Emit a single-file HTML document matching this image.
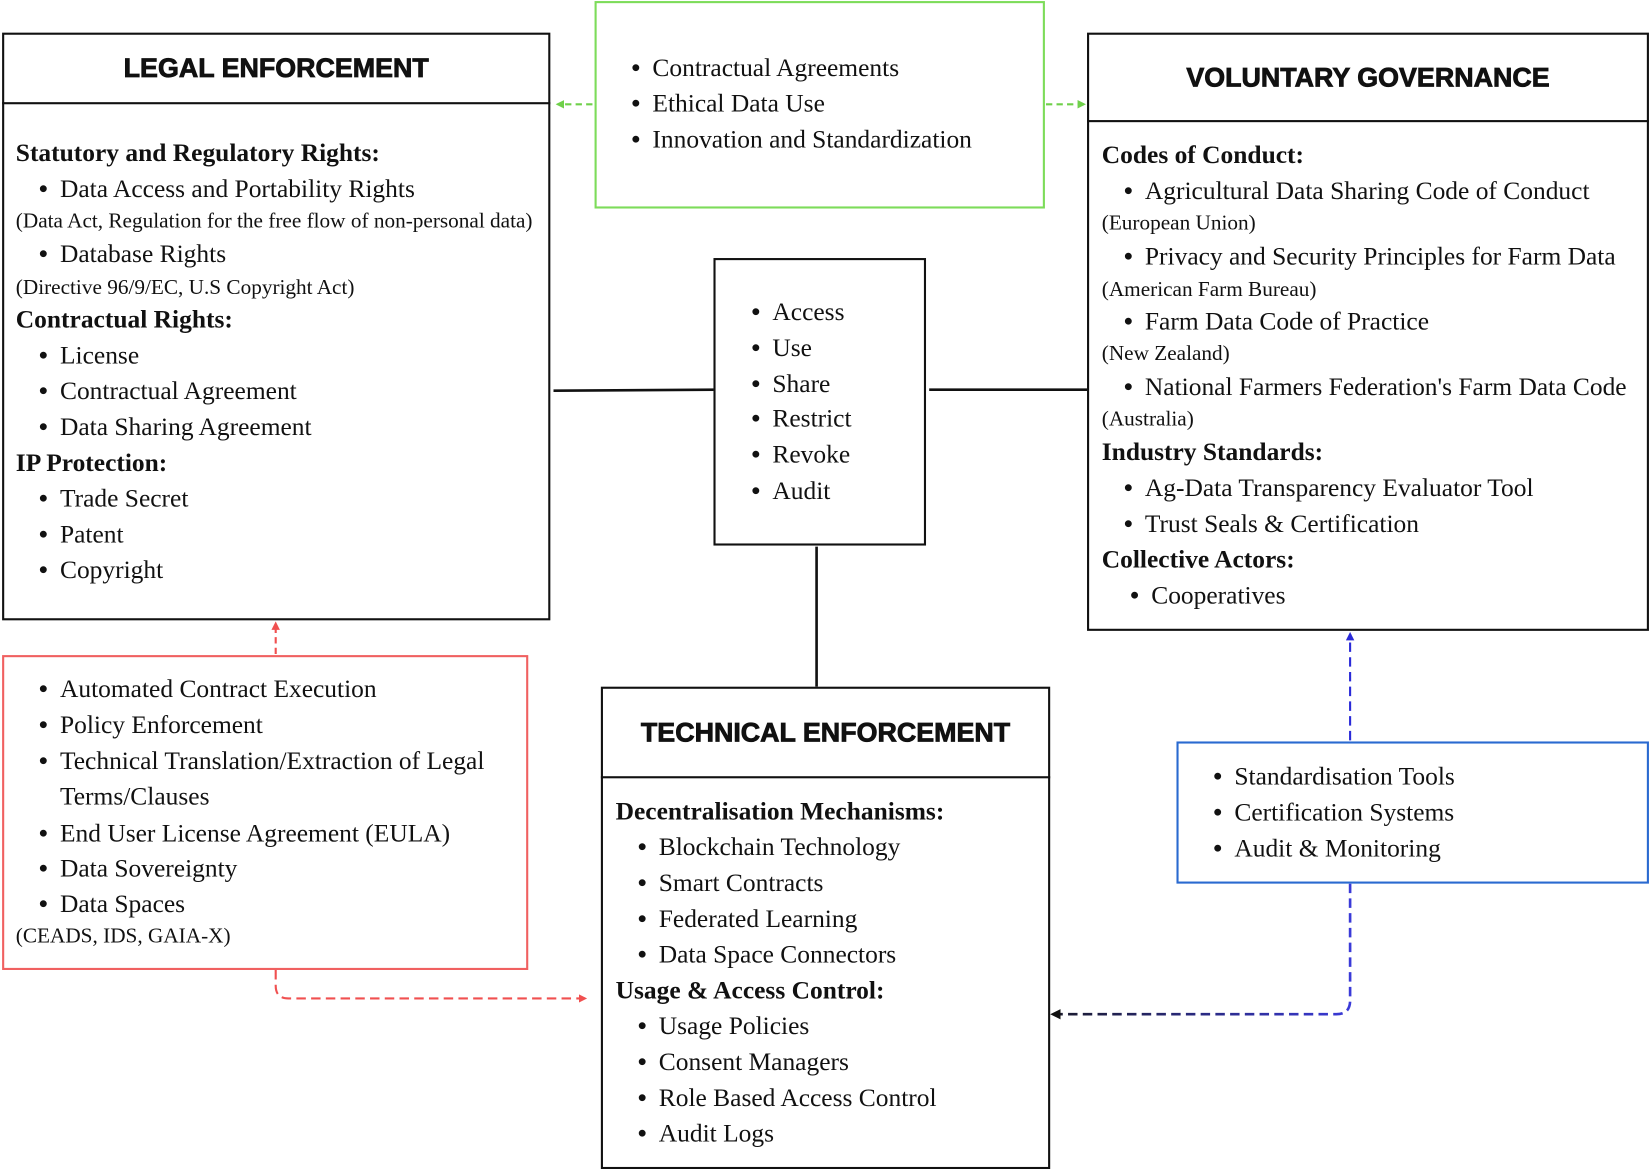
<!DOCTYPE html>
<html><head><meta charset="utf-8"><style>
html,body{margin:0;padding:0;background:#fff;}
body{width:1650px;height:1169px;overflow:hidden;position:relative;}
#w{position:absolute;left:0;top:0;width:1568px;height:1110px;transform:scale(1.0523,1.0532);transform-origin:0 0;}
.b{position:absolute;box-sizing:border-box;background:#fff;}
.t{position:absolute;white-space:nowrap;font-family:"Liberation Serif",serif;font-size:24.2px;line-height:26px;color:#111;}
.s{font-size:20.2px;}
.h{font-weight:bold;}
.i::before{content:"•";position:absolute;left:-20px;font-weight:bold;}
.ti{position:absolute;white-space:nowrap;font-family:"Liberation Sans",sans-serif;font-weight:900;font-size:25.5px;line-height:28px;color:#111;text-align:center;letter-spacing:0px;-webkit-text-stroke:0.8px #111;}
svg{position:absolute;left:0;top:0;}
</style></head><body><div id="w">
<svg width="1568" height="1110" viewBox="0 0 1568 1110">
<defs>
<marker id="ag" markerWidth="8" markerHeight="8" refX="6" refY="4" orient="auto" markerUnits="userSpaceOnUse"><path d="M0,0 L8,4 L0,8 z" fill="#6fd04a"/></marker>
<marker id="ar" markerWidth="8" markerHeight="8" refX="6" refY="4" orient="auto" markerUnits="userSpaceOnUse"><path d="M0,0 L8,4 L0,8 z" fill="#f05050"/></marker>
<marker id="ab" markerWidth="8" markerHeight="8" refX="6" refY="4" orient="auto" markerUnits="userSpaceOnUse"><path d="M0,0 L8,4 L0,8 z" fill="#2a2ad8"/></marker>
<marker id="ak" markerWidth="10" markerHeight="10" refX="8" refY="5" orient="auto" markerUnits="userSpaceOnUse"><path d="M0,0 L10,5 L0,10 z" fill="#111"/></marker>
<linearGradient id="gb" x1="998" y1="0" x2="1283" y2="0" gradientUnits="userSpaceOnUse"><stop offset="0" stop-color="#1a1a2a"/><stop offset="1" stop-color="#3a3ad8"/></linearGradient>
</defs>
<g fill="none" stroke-width="2">
<path d="M563,99 L530,99" stroke="#6fd04a" stroke-dasharray="6,4" marker-end="url(#ag)"/>
<path d="M994,99 L1030,99" stroke="#6fd04a" stroke-dasharray="6,4" marker-end="url(#ag)"/>
<path d="M526,371 L680,370" stroke="#111" stroke-width="2.5"/>
<path d="M883,370 L1033,370" stroke="#111" stroke-width="2.5"/>
<path d="M776,519 L776,652" stroke="#111" stroke-width="2.5"/>
<path d="M262,621 L262,592" stroke="#f05050" stroke-dasharray="6,4" marker-end="url(#ar)"/>
<path d="M262,921 L262,936 Q262,948 274,948 L556,948" stroke="#f05050" stroke-dasharray="9,5" marker-end="url(#ar)"/>
<path d="M1283,703 L1283,602" stroke="#2a2ad8" stroke-dasharray="9,5" marker-end="url(#ab)"/>
<path d="M1283,839 L1283,950 Q1283,963 1270,963 L1000,963" stroke="url(#gb)" stroke-width="2.5" stroke-dasharray="9,5" marker-end="url(#ak)"/>
</g>
</svg>

<div class="b" style="left:2px;top:31px;width:521px;height:558px;border:2px solid #111;"></div>
<div class="b" style="left:2px;top:97px;width:521px;height:2px;background:#111;"></div>
<div class="ti" style="left:2px;top:51px;width:521px;">LEGAL ENFORCEMENT</div>
<div class="t h" style="left:15px;top:133px">Statutory and Regulatory Rights:</div>
<div class="t i" style="left:57px;top:167px">Data Access and Portability Rights</div>
<div class="t s" style="left:15px;top:197px">(Data Act, Regulation for the free flow of non-personal data)</div>
<div class="t i" style="left:57px;top:229px">Database Rights</div>
<div class="t s" style="left:15px;top:260px">(Directive 96/9/EC, U.S Copyright Act)</div>
<div class="t h" style="left:15px;top:291px">Contractual Rights:</div>
<div class="t i" style="left:57px;top:325px">License</div>
<div class="t i" style="left:57px;top:359px">Contractual Agreement</div>
<div class="t i" style="left:57px;top:393px">Data Sharing Agreement</div>
<div class="t h" style="left:15px;top:427px">IP Protection:</div>
<div class="t i" style="left:57px;top:461px">Trade Secret</div>
<div class="t i" style="left:57px;top:495px">Patent</div>
<div class="t i" style="left:57px;top:529px">Copyright</div>

<div class="b" style="left:565px;top:1px;width:428px;height:197px;border:2px solid #7ddc5a;"></div>
<div class="t i" style="left:620px;top:52px">Contractual Agreements</div>
<div class="t i" style="left:620px;top:86px">Ethical Data Use</div>
<div class="t i" style="left:620px;top:120px">Innovation and Standardization</div>

<div class="b" style="left:1033px;top:31px;width:534px;height:568px;border:2px solid #111;"></div>
<div class="b" style="left:1033px;top:114px;width:534px;height:2px;background:#111;"></div>
<div class="ti" style="left:1033px;top:60px;width:534px;">VOLUNTARY GOVERNANCE</div>
<div class="t h" style="left:1047px;top:135px">Codes of Conduct:</div>
<div class="t i" style="left:1088px;top:169px">Agricultural Data Sharing Code of Conduct</div>
<div class="t s" style="left:1047px;top:199px">(European Union)</div>
<div class="t i" style="left:1088px;top:231px">Privacy and Security Principles for Farm Data</div>
<div class="t s" style="left:1047px;top:262px">(American Farm Bureau)</div>
<div class="t i" style="left:1088px;top:293px">Farm Data Code of Practice</div>
<div class="t s" style="left:1047px;top:323px">(New Zealand)</div>
<div class="t i" style="left:1088px;top:355px">National Farmers Federation's Farm Data Code</div>
<div class="t s" style="left:1047px;top:385px">(Australia)</div>
<div class="t h" style="left:1047px;top:417px">Industry Standards:</div>
<div class="t i" style="left:1088px;top:451px">Ag-Data Transparency Evaluator Tool</div>
<div class="t i" style="left:1088px;top:485px">Trust Seals &amp; Certification</div>
<div class="t h" style="left:1047px;top:519px">Collective Actors:</div>
<div class="t i" style="left:1094px;top:553px">Cooperatives</div>

<div class="b" style="left:678px;top:245px;width:202px;height:273px;border:2px solid #111;"></div>
<div class="t i" style="left:734px;top:284px">Access</div>
<div class="t i" style="left:734px;top:318px">Use</div>
<div class="t i" style="left:734px;top:352px">Share</div>
<div class="t i" style="left:734px;top:385px">Restrict</div>
<div class="t i" style="left:734px;top:419px">Revoke</div>
<div class="t i" style="left:734px;top:454px">Audit</div>

<div class="b" style="left:2px;top:622px;width:500px;height:299px;border:2px solid #f06060;"></div>
<div class="t i" style="left:57px;top:642px">Automated Contract Execution</div>
<div class="t i" style="left:57px;top:676px">Policy Enforcement</div>
<div class="t i" style="left:57px;top:710px">Technical Translation/Extraction of Legal</div>
<div class="t" style="left:57px;top:744px">Terms/Clauses</div>
<div class="t i" style="left:57px;top:779px">End User License Agreement (EULA)</div>
<div class="t i" style="left:57px;top:812px">Data Sovereignty</div>
<div class="t i" style="left:57px;top:846px">Data Spaces</div>
<div class="t s" style="left:15px;top:876px">(CEADS, IDS, GAIA-X)</div>

<div class="b" style="left:571px;top:652px;width:427px;height:458px;border:2px solid #111;"></div>
<div class="b" style="left:571px;top:737px;width:427px;height:2px;background:#111;"></div>
<div class="ti" style="left:571px;top:682px;width:427px;">TECHNICAL ENFORCEMENT</div>
<div class="t h" style="left:585px;top:758px">Decentralisation Mechanisms:</div>
<div class="t i" style="left:626px;top:792px">Blockchain Technology</div>
<div class="t i" style="left:626px;top:826px">Smart Contracts</div>
<div class="t i" style="left:626px;top:860px">Federated Learning</div>
<div class="t i" style="left:626px;top:894px">Data Space Connectors</div>
<div class="t h" style="left:585px;top:928px">Usage &amp; Access Control:</div>
<div class="t i" style="left:626px;top:962px">Usage Policies</div>
<div class="t i" style="left:626px;top:996px">Consent Managers</div>
<div class="t i" style="left:626px;top:1030px">Role Based Access Control</div>
<div class="t i" style="left:626px;top:1064px">Audit Logs</div>

<div class="b" style="left:1118px;top:704px;width:449px;height:135px;border:2px solid #2a6ad0;"></div>
<div class="t i" style="left:1173px;top:725px">Standardisation Tools</div>
<div class="t i" style="left:1173px;top:759px">Certification Systems</div>
<div class="t i" style="left:1173px;top:793px">Audit &amp; Monitoring</div>
</div></body></html>
